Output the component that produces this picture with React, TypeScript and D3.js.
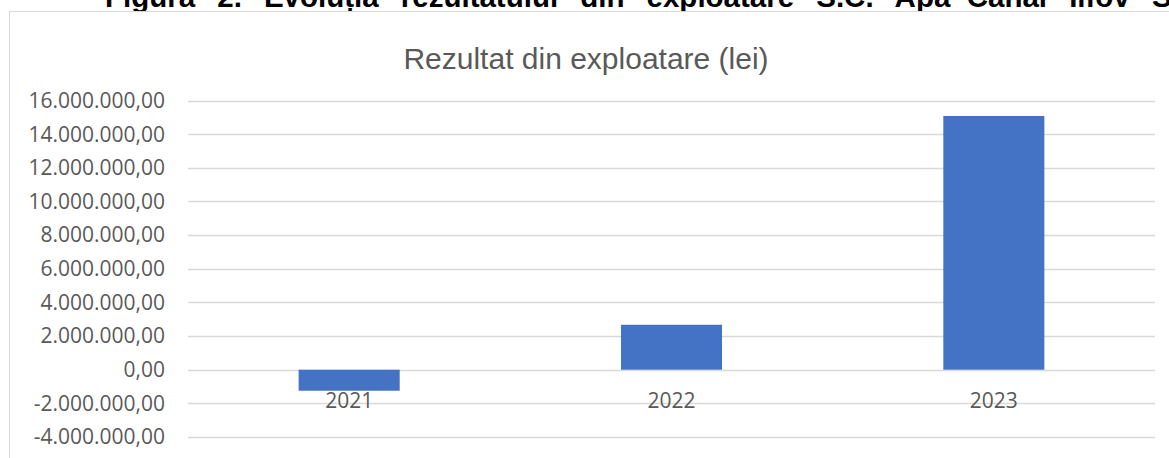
import React from "react";
import * as d3 from "d3";

const figureTitle = "Figura 2. Evoluția rezultatului din exploatare S.C. Apa–Canal Ilfov S.A.";
const chartTitle = "Rezultat din exploatare (lei)";
const categories = ["2021", "2022", "2023"];
const values = [-1250000, 2670000, 15080000];
const yTicks = [-4000000, -2000000, 0, 2000000, 4000000, 6000000, 8000000, 10000000, 12000000, 14000000, 16000000];

const W = 1169;
const H = 458;

const roLocale = d3.formatLocale({
  decimal: ",",
  thousands: ".",
  grouping: [3],
  currency: ["", ""],
  minus: "-",
});
const fmt = roLocale.format(",.2f");

export default function App() {
  const plotLeft = 188;
  const plotRight = 1155;
  const y = d3.scaleLinear().domain([-4000000, 16000000]).range([437, 100.5]);
  const gap = 2.19 / 3.19;
  const x = d3
    .scaleBand<string>()
    .domain(categories)
    .range([plotLeft, plotRight])
    .paddingInner(gap)
    .paddingOuter(gap / 2);

  const grey = "#595959";
  const tickFont = "'Open Sans', 'Noto Sans', sans-serif";

  return (
    <svg
      width={W}
      height={H}
      style={{ position: "absolute", left: 0, top: 0, background: "#fff" }}
    >
      <rect x={0} y={0} width={W} height={H} fill="#fff" />
      <text
        x={105}
        y={7}
        fontFamily="'Liberation Sans', Arial, sans-serif"
        fontWeight="bold"
        fontSize={29.5}
        wordSpacing={13.9}
        fill="#000"
      >
        {figureTitle}
      </text>
      <rect x={9.5} y={11.5} width={1300} height={600} fill="#fff" stroke="#d9d9d9" strokeWidth={1} />
      <text
        x={586}
        y={69}
        textAnchor="middle"
        fontFamily="'Liberation Sans', Arial, sans-serif"
        fontSize={30}
        fill={grey}
      >
        {chartTitle}
      </text>
      {yTicks.map((t) => (
        <g key={t}>
          <line
            x1={plotLeft}
            x2={plotRight}
            y1={Math.round(y(t)) + 0.5}
            y2={Math.round(y(t)) + 0.5}
            stroke="#d9d9d9"
            strokeWidth={1.3}
          />
          <text
            x={165}
            y={y(t)}
            dy="0.35em"
            textAnchor="end"
            fontFamily={tickFont}
            fontSize={21}
            fill={grey}
          >
            {fmt(t)}
          </text>
        </g>
      ))}
      {categories.map((c, i) => {
        const v = values[i];
        const y0 = y(0);
        const y1 = y(v);
        return (
          <rect
            key={c}
            x={x(c)}
            y={Math.min(y0, y1)}
            width={x.bandwidth()}
            height={Math.abs(y1 - y0)}
            fill="#4472C4"
          />
        );
      })}
      {categories.map((c) => (
        <text
          key={"l" + c}
          x={(x(c) as number) + x.bandwidth() / 2}
          y={408}
          textAnchor="middle"
          fontFamily={tickFont}
          fontSize={21}
          fill={grey}
        >
          {c}
        </text>
      ))}
    </svg>
  );
}
